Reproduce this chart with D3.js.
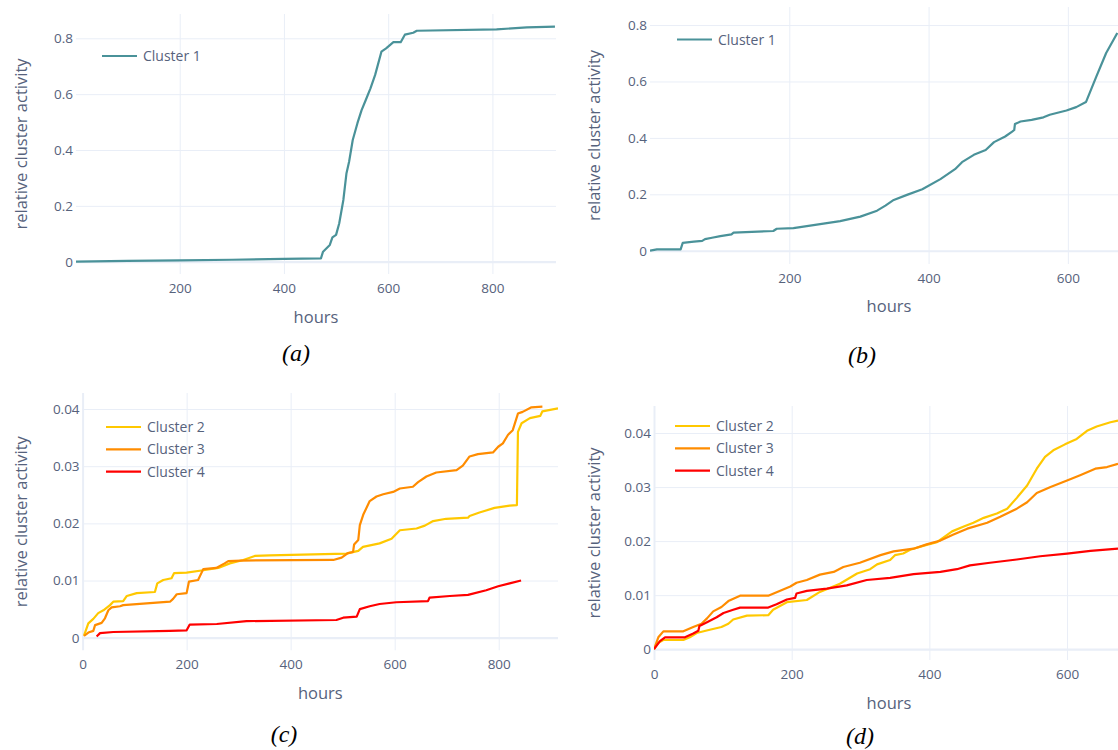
<!DOCTYPE html>
<html>
<head>
<meta charset="utf-8">
<script src="https://cdn.jsdelivr.net/npm/d3@7"></script>
<style>
  body { margin: 0; background: #ffffff; }
  svg text { font-family: "Open Sans", "Noto Sans", sans-serif; }
</style>
</head>
<body>
<svg id="chart" width="1118" height="750"></svg>
<script>
// ---------------- DATA ----------------
// Panel (a): Cluster 1
const aHours    = [1, 100, 200, 300, 400, 471, 475, 488, 493, 500, 506, 514, 520, 525, 532, 541, 549, 557, 566, 575, 587, 596, 610, 624, 632, 648, 655, 808, 866, 920];
const aCluster1 = [0.000, 0.003, 0.005, 0.007, 0.010, 0.012, 0.036, 0.060, 0.087, 0.096, 0.137, 0.221, 0.317, 0.358, 0.436, 0.496, 0.543, 0.579, 0.621, 0.669, 0.752, 0.764, 0.786, 0.786, 0.813, 0.820, 0.827, 0.832, 0.839, 0.842];

// Panel (b): Cluster 1
const bHours    = [0, 10, 44, 47, 63, 75, 79, 89, 101, 117, 120, 177, 182, 206, 273, 302, 326, 338, 350, 369, 391, 417, 438, 448, 465, 482, 494, 510, 520, 523, 524, 532, 548, 565, 574, 598, 612, 626, 641, 655, 671];
const bCluster1 = [0, 0.005, 0.005, 0.028, 0.032, 0.035, 0.041, 0.046, 0.052, 0.058, 0.064, 0.070, 0.078, 0.080, 0.105, 0.121, 0.142, 0.160, 0.180, 0.198, 0.218, 0.254, 0.289, 0.314, 0.340, 0.357, 0.385, 0.405, 0.422, 0.428, 0.449, 0.458, 0.464, 0.473, 0.482, 0.497, 0.509, 0.527, 0.618, 0.701, 0.772];

// Panel (c): Clusters 2-4
const cHours2    = [2.7, 11, 20.6, 30, 40, 52.7, 59, 78, 85, 104, 139, 143.6, 155, 171, 176, 200, 232, 261, 283, 309, 331, 360, 507, 530, 539, 571, 594, 610, 642, 658, 674, 699, 741, 744, 763, 792, 821, 835, 837, 844, 860, 880, 884, 914];
const cCluster2  = [0.00035, 0.0025, 0.0033, 0.0043, 0.0048, 0.0057, 0.0063, 0.0064, 0.0073, 0.0078, 0.0080, 0.0095, 0.0101, 0.0104, 0.0113, 0.0114, 0.0118, 0.0122, 0.0130, 0.0136, 0.0143, 0.0144, 0.0147, 0.0152, 0.0159, 0.0165, 0.0173, 0.0188, 0.0191, 0.0196, 0.0204, 0.0208, 0.0210, 0.0213, 0.0219, 0.0227, 0.0231, 0.0232, 0.0360, 0.0375, 0.0384, 0.0388, 0.0396, 0.0401];
const cHours3    = [2.7, 11, 20.6, 24, 36.6, 43, 49.5, 55.8, 72, 78, 168, 174, 181, 200, 204.4, 222, 232, 257, 273, 280, 305, 482, 498, 510, 520, 522, 530, 533, 539.5, 552, 565, 578, 597, 610, 635, 645, 661, 680, 719, 731, 744, 760, 789, 799, 808, 818, 827, 837, 846, 863, 884];
const cCluster3  = [0.0003, 0.0009, 0.0012, 0.0022, 0.0026, 0.0034, 0.0048, 0.0053, 0.0055, 0.0057, 0.0063, 0.0068, 0.0076, 0.0078, 0.0098, 0.0101, 0.0120, 0.0122, 0.0130, 0.0134, 0.0135, 0.0136, 0.0140, 0.0148, 0.0150, 0.0163, 0.0171, 0.0197, 0.0215, 0.0239, 0.0247, 0.0251, 0.0255, 0.0261, 0.0264, 0.0272, 0.0282, 0.0289, 0.0293, 0.0301, 0.0317, 0.0321, 0.0324, 0.0334, 0.0340, 0.0355, 0.0363, 0.0392, 0.0395, 0.0403, 0.0404];
const cHours4    = [27, 33.5, 59, 168, 200, 206, 258, 315, 488, 501, 527, 533, 552, 571, 603, 664, 667, 706, 741, 776, 799, 821, 843];
const cCluster4  = [0.0002, 0.0008, 0.0010, 0.0012, 0.0013, 0.0023, 0.0024, 0.0029, 0.0031, 0.0035, 0.0037, 0.0050, 0.0055, 0.0059, 0.0062, 0.0064, 0.0070, 0.0073, 0.0075, 0.0083, 0.0090, 0.0095, 0.0100];

// Panel (d): Clusters 2-4
const dHours2    = [0, 6.3, 13.6, 42.6, 52, 62, 81, 98, 108, 115, 135, 166, 173, 193, 222, 241, 270, 295, 314, 324, 343, 350, 362, 372, 396, 411, 433, 450, 464, 479, 498, 513, 527, 542, 556, 568, 580, 597, 614, 629, 643, 663, 674];
const dCluster2  = [0, 0.0012, 0.0017, 0.0017, 0.0022, 0.0030, 0.0036, 0.0041, 0.0047, 0.0055, 0.0062, 0.0063, 0.0073, 0.0087, 0.0091, 0.0106, 0.0121, 0.0140, 0.0148, 0.0157, 0.0165, 0.0174, 0.0177, 0.0184, 0.0193, 0.0198, 0.0218, 0.0227, 0.0234, 0.0243, 0.0251, 0.0260, 0.0280, 0.0303, 0.0334, 0.0356, 0.0368, 0.0379, 0.0389, 0.0404, 0.0412, 0.0420, 0.0423];
const dHours3    = [0, 6.3, 13.6, 42.6, 57, 69, 77, 86, 98, 108, 125, 166, 198, 207, 222, 241, 261, 275, 299, 329, 348, 377, 396, 416, 435, 455, 484, 503, 527, 542, 556, 576, 600, 619, 641, 658, 674];
const dCluster3  = [0, 0.0022, 0.0033, 0.0033, 0.0041, 0.0047, 0.0057, 0.0070, 0.0078, 0.0089, 0.0099, 0.0099, 0.0116, 0.0123, 0.0128, 0.0138, 0.0143, 0.0152, 0.0160, 0.0174, 0.0181, 0.0186, 0.0194, 0.0201, 0.0212, 0.0223, 0.0234, 0.0245, 0.0260, 0.0272, 0.0289, 0.0300, 0.0312, 0.0322, 0.0334, 0.0337, 0.0343];
const dHours4    = [0, 8.7, 16, 45, 57, 64.4, 66, 77, 91, 101, 115, 125, 166, 178, 193, 205, 207, 222, 251, 280, 309, 343, 377, 416, 440, 459, 488, 527, 561, 600, 634, 674];
const dCluster4  = [0, 0.0015, 0.0022, 0.0022, 0.0029, 0.0034, 0.0043, 0.0050, 0.0059, 0.0067, 0.0073, 0.0077, 0.0077, 0.0083, 0.0092, 0.0095, 0.0103, 0.0108, 0.0112, 0.0118, 0.0128, 0.0132, 0.0139, 0.0143, 0.0148, 0.0155, 0.0160, 0.0166, 0.0172, 0.0177, 0.0182, 0.0186];

// Tick values / labels
const xTicksA = [200, 400, 600, 800];
const xTicksB = [200, 400, 600];
const xTicksC = [0, 200, 400, 600, 800];
const xTicksD = [0, 200, 400, 600];
const yTicksBig   = [0, 0.2, 0.4, 0.6, 0.8];
const yTickLabelsBig   = ["0", "0.2", "0.4", "0.6", "0.8"];
const yTicksSmall = [0, 0.01, 0.02, 0.03, 0.04];
const yTickLabelsSmall = ["0", "0.01", "0.02", "0.03", "0.04"];

const seriesNames = ["Cluster 1", "Cluster 2", "Cluster 3", "Cluster 4"];
const seriesColors = ["#4a9299", "#ffc800", "#ff8c00", "#ff0000"];
const xTitle = "hours";
const yTitle = "relative cluster activity";
const captions = ["(a)", "(b)", "(c)", "(d)"];

// ---------------- DRAW ----------------
const svg = d3.select("#chart");
svg.append("rect").attr("width", 1118).attr("height", 750).attr("fill", "#fff");

const TEXT = "#56627c";
const GRID = "#e9eef7";

function zip(xs, ys) { return xs.map((x, i) => [x, ys[i]]); }

const panels = [
  { id: "a", left: 76, right: 556, top: 14, bottom: 274, xDomain: [1, 922], yDomain: [-0.044, 0.887],
    xTicks: xTicksA, yTicks: yTicksBig, yLabels: yTickLabelsBig,
    series: [{ name: seriesNames[0], color: seriesColors[0], pts: zip(aHours, aCluster1) }],
    legend: [102, 56], caption: captions[0], capX: 296, capY: 361, titleY: 323, yTitleX: 21 },
  { id: "b", left: 650, right: 1118, top: 7, bottom: 264, xDomain: [0, 672], yDomain: [-0.047, 0.864],
    xTicks: xTicksB, yTicks: yTicksBig, yLabels: yTickLabelsBig,
    series: [{ name: seriesNames[0], color: seriesColors[0], pts: zip(bHours, bCluster1) }],
    legend: [677, 39.5], caption: captions[1], capX: 862, capY: 363, titleY: 312, titleX: 889, yTitleX: 594 },
  { id: "c", left: 82.6, right: 558, top: 393, bottom: 650.3, xDomain: [0, 914], yDomain: [-0.0022, 0.0428],
    xTicks: xTicksC, yTicks: yTicksSmall, yLabels: yTickLabelsSmall,
    series: [
      { name: seriesNames[1], color: seriesColors[1], pts: zip(cHours2, cCluster2) },
      { name: seriesNames[2], color: seriesColors[2], pts: zip(cHours3, cCluster3) },
      { name: seriesNames[3], color: seriesColors[3], pts: zip(cHours4, cCluster4) }],
    legend: [106, 427], caption: captions[2], capX: 284, capY: 742, titleY: 699, yTitleX: 21 },
  { id: "d", left: 654, right: 1118, top: 406, bottom: 660, xDomain: [0, 674], yDomain: [-0.002, 0.045],
    xTicks: xTicksD, yTicks: yTicksSmall, yLabels: yTickLabelsSmall,
    series: [
      { name: seriesNames[1], color: seriesColors[1], pts: zip(dHours2, dCluster2) },
      { name: seriesNames[2], color: seriesColors[2], pts: zip(dHours3, dCluster3) },
      { name: seriesNames[3], color: seriesColors[3], pts: zip(dHours4, dCluster4) }],
    legend: [675, 426], caption: captions[3], capX: 860, capY: 744, titleY: 709, titleX: 889, yTitleX: 594 }
];

panels.forEach(p => {
  const g = svg.append("g");
  const x = d3.scaleLinear().domain(p.xDomain).range([p.left, p.right]);
  const y = d3.scaleLinear().domain(p.yDomain).range([p.bottom, p.top]);
  const h = p.bottom - p.top, w = p.right - p.left;

  // X gridlines + tick labels
  const xa = g.append("g").attr("transform", `translate(0,${p.bottom})`)
    .call(d3.axisBottom(x).tickValues(p.xTicks).tickSize(-h).tickPadding(9).tickFormat(d3.format("d")));
  xa.select(".domain").remove();
  xa.selectAll(".tick line").attr("stroke", GRID).attr("stroke-width", d => d === 0 ? 2 : 1);
  xa.selectAll(".tick text").attr("fill", TEXT).style("font-size", "13.5px");

  // Y gridlines + tick labels
  const ya = g.append("g").attr("transform", `translate(${p.left},0)`)
    .call(d3.axisLeft(y).tickValues(p.yTicks).tickSize(-w).tickPadding(3)
      .tickFormat((d, i) => p.yLabels[i]));
  ya.select(".domain").remove();
  ya.selectAll(".tick line").attr("stroke", GRID).attr("stroke-width", d => d === 0 ? 2.2 : 1);
  ya.selectAll(".tick text").attr("fill", TEXT).style("font-size", "13.5px");

  // clip
  svg.append("clipPath").attr("id", "clip-" + p.id)
    .append("rect").attr("x", p.left).attr("y", p.top - 4).attr("width", w).attr("height", h + 8);

  const line = d3.line().x(d => x(d[0])).y(d => y(d[1]));
  const lg = g.append("g").attr("clip-path", `url(#clip-${p.id})`);
  p.series.forEach(s => {
    lg.append("path").datum(s.pts).attr("d", line)
      .attr("fill", "none").attr("stroke", s.color).attr("stroke-width", 2.2)
      .attr("stroke-linejoin", "round");
  });

  // legend
  p.series.forEach((s, i) => {
    const ly = p.legend[1] + i * 22.3;
    g.append("line").attr("x1", p.legend[0]).attr("x2", p.legend[0] + 35)
      .attr("y1", ly).attr("y2", ly).attr("stroke", s.color).attr("stroke-width", 2.2);
    g.append("text").attr("x", p.legend[0] + 41).attr("y", ly).attr("dy", "0.36em")
      .attr("fill", TEXT).style("font-size", "14px").text(s.name);
  });

  // axis titles
  g.append("text").attr("x", p.titleX || (p.left + p.right) / 2).attr("y", p.titleY)
    .attr("text-anchor", "middle").attr("fill", TEXT).style("font-size", "16.5px").text(xTitle);
  g.append("text")
    .attr("transform", `translate(${p.yTitleX},${(p.top + p.bottom) / 2}) rotate(-90)`)
    .attr("text-anchor", "middle").attr("dy", "0.35em")
    .attr("fill", TEXT).style("font-size", "16.5px").text(yTitle);

  // caption
  g.append("text").attr("x", p.capX).attr("y", p.capY).attr("text-anchor", "middle")
    .style("font-family", "'Liberation Serif', 'Times New Roman', serif")
    .style("font-style", "italic").style("font-size", "24px").attr("fill", "#000")
    .text(p.caption);
});
</script>
</body>
</html>
